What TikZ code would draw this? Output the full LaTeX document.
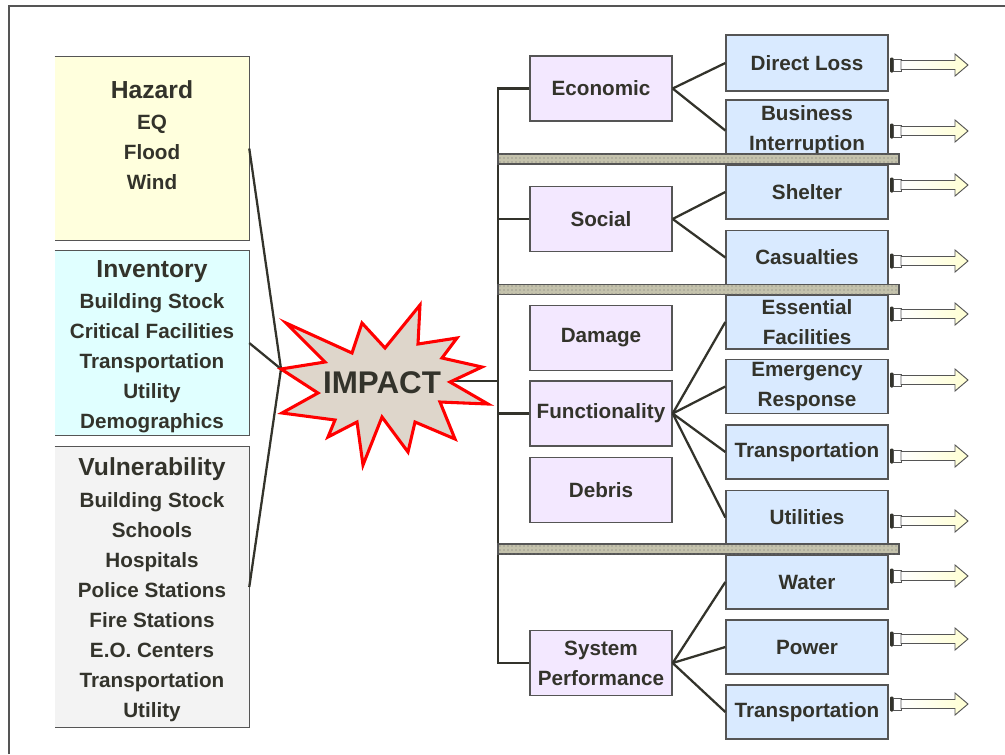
\documentclass[tikz,border=0pt]{standalone}
\usepackage{fontspec}
\setmainfont{Liberation Sans}
\usetikzlibrary{patterns}
\definecolor{txt}{RGB}{51,51,43}
\definecolor{hazc}{RGB}{255,255,221}
\definecolor{invc}{RGB}{224,255,255}
\definecolor{vulc}{RGB}{243,243,243}
\definecolor{purc}{RGB}{243,232,255}
\definecolor{bluc}{RGB}{217,234,255}
\definecolor{edge}{RGB}{85,85,85}
\definecolor{barc}{RGB}{196,194,172}
\definecolor{starc}{RGB}{222,214,203}
\definecolor{arrc}{RGB}{255,255,210}
\tikzset{outarrow/.pic={
  \fill[txt, rounded corners=0.8pt] (0,-7.5) rectangle (3.5,7.5);
  \draw[edge, line width=0.6pt, fill=white] (3.5,-6) rectangle (11,6);
  \draw[edge, line width=0.7pt, left color=white, right color=arrc]
    (11,-4.5) -- (65,-4.5) -- (65,-11) -- (78,0) -- (65,11) -- (65,4.5) -- (11,4.5) -- cycle;
}}
\begin{document}
\begin{tikzpicture}[x=0.75pt,y=-0.75pt,
  every node/.style={text=txt, font=\fontsize{15.5}{22.5}\selectfont\bfseries},
  lbox/.style={minimum width=145.5pt, inner sep=0pt},
  ltext/.style={align=center, inner sep=0pt},
  pbox/.style={draw=edge, line width=1pt, fill=purc, minimum width=106.5pt, minimum height=48.75pt, align=center, inner sep=0pt},
  bbox/.style={draw=edge, line width=1pt, fill=bluc, minimum width=121.5pt, minimum height=40.5pt, align=center, inner sep=0pt},
  conn/.style={draw=txt, line width=1.7pt},
  bar/.style={draw=edge, line width=0.8pt, fill=barc, minimum width=300.75pt, minimum height=7.5pt, inner sep=0pt, postaction={pattern=dots, pattern color=black!55}},
  border/.style={draw=edge, line width=1pt}
]
\useasboundingbox (0,0) rectangle (1005,754);
% outer frame
\draw[edge, line width=1.6pt] (9,754) -- (9,6) -- (1005,6);

% left boxes
\node[lbox, fill=hazc, minimum height=137.25pt] (haz) at (152,148.5) {};
\draw[border] (haz.north west) -- (haz.north east) -- (haz.south east) -- (haz.south west);
\node[ltext] (hazt) at (152,135) {{\fontsize{18.5}{22.5}\selectfont Hazard}\\[1pt]EQ\\Flood\\Wind};

\node[lbox, fill=invc, minimum height=138pt] (inv) at (152,343) {};
\draw[border] (inv.north west) -- (inv.north east) -- (inv.south east) -- (inv.south west);
\node[ltext] (invt) at (152,347) {{\fontsize{18.5}{22.5}\selectfont Inventory}\\[1pt]Building Stock\\Critical Facilities\\Transportation\\Utility\\Demographics};

\node[lbox, fill=vulc, minimum height=210pt] (vul) at (152,587) {};
\draw[border] (vul.north west) -- (vul.north east) -- (vul.south east) -- (vul.south west);
\node[ltext] (vult) at (152,589.5) {{\fontsize{18.5}{22.5}\selectfont Vulnerability}\\[1.5pt]Building Stock\\Schools\\Hospitals\\Police Stations\\Fire Stations\\E.O. Centers\\Transportation\\Utility};

% star
\coordinate (impL) at (281,369);
\coordinate (impR) at (452,381);
\draw[conn] (haz.east) -- (impL);
\draw[conn] (inv.east) -- (impL);
\draw[conn] (vul.east) -- (impL);
\coordinate (trk) at (498,0);
\draw[conn] (impR) -- (impR -| trk);
\draw[red, line width=2.3pt, fill=starc, line join=miter]
 (286,323) -- (352,353) -- (362,323) -- (385,348) -- (420,305) -- (418,344) -- (457,338) -- (442,358)
 -- (482,367) -- (450,382) -- (488,404) -- (440,402) -- (455,439) -- (415,422) -- (408,452) -- (382,417)
 -- (363,465) -- (357,422) -- (328,437) -- (335,420) -- (282,413) -- (318,393) -- (281,369) -- (325,362) -- cycle;
\node[font=\fontsize{23.5}{28}\selectfont\bfseries] (imp) at (382,383) {IMPACT};

% purple boxes
\node[pbox] (econ) at (601,88.5) {\raisebox{-1.5pt}{Economic}};
\node[pbox] (soc) at (601,219) {\raisebox{-1pt}{Social}};
\node[pbox] (dam) at (601,338) {\raisebox{-1.5pt}{Damage}};
\node[pbox] (func) at (601,413.5) {\raisebox{-1.5pt}{Functionality}};
\node[pbox] (deb) at (601,490) {\raisebox{-1pt}{Debris}};
\node[pbox] (sysp) at (601,663) {System\\Performance};

\draw[conn] (econ.west) -- (econ.west -| trk) -- (sysp.west -| trk) -- (sysp.west);
\draw[conn] (soc.west) -- (soc.west -| trk);
\draw[conn] (func.west) -- (func.west -| trk);

% blue boxes
\node[bbox, minimum height=42pt] (dl) at (807,63) {Direct Loss};
\node[bbox, minimum height=45.75pt] (bi) at (807,130.5) {Business\\Interruption};
\node[bbox] (shel) at (807,192) {Shelter};
\node[bbox] (cas) at (807,257.5) {Casualties};
\node[bbox] (ess) at (807,322) {Essential\\Facilities};
\node[bbox] (emr) at (807,386.5) {Emergency\\Response};
\node[bbox] (trn1) at (807,452) {\raisebox{-1.5pt}{Transportation}};
\node[bbox] (utl) at (807,517.5) {Utilities};
\node[bbox] (wat) at (807,582) {Water};
\node[bbox] (pow) at (807,647) {Power};
\node[bbox] (trn2) at (807,712) {\raisebox{-1.5pt}{Transportation}};

\draw[conn] (econ.east) -- (dl.west);
\draw[conn] (econ.east) -- (bi.west);
\draw[conn] (soc.east) -- (shel.west);
\draw[conn] (soc.east) -- (cas.west);
\draw[conn] (func.east) -- (ess.west);
\draw[conn] (func.east) -- (emr.west);
\draw[conn] (func.east) -- (trn1.west);
\draw[conn] (func.east) -- (utl.west);
\draw[conn] (sysp.east) -- (wat.west);
\draw[conn] (sysp.east) -- (pow.west);
\draw[conn] (sysp.east) -- (trn2.west);

% separator bars
\node[bar] (bar1) at (698.5,159) {};
\node[bar] (bar2) at (698.5,289.5) {};
\node[bar] (bar3) at (698.5,549) {};

% outgoing arrows
\foreach \yy in {65,131,185,261,314,380,456,521,576,639,704}
  \pic at (890,\yy) {outarrow};
\end{tikzpicture}
\end{document}
